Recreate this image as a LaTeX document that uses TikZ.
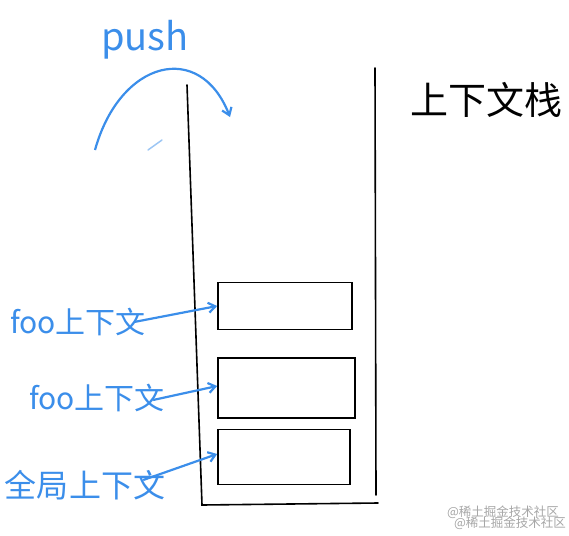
\documentclass[tikz,border=0pt]{standalone}
\usepackage{fontspec}
\newfontfamily\cjk{Noto Sans CJK SC}
\usetikzlibrary{arrows.meta}
\definecolor{pen}{HTML}{3B8EEA}
\begin{document}
\begin{tikzpicture}[x=1pt,y=-1pt,
  wall/.style={black,line width=1.6pt,line cap=round},
  frame/.style={draw=black,line width=1.6pt},
  lbl/.style={text=pen,font=\cjk\fontsize{30}{30}\selectfont,inner sep=0pt},
  blue arrow/.style={pen,line width=2.2pt,-{Straight Barb[length=7pt,width=10pt]}},
  mark text/.style={text=gray!70,font=\cjk\fontsize{12.5}{12.5}\selectfont,inner sep=0pt}]
\useasboundingbox (0,0) rectangle (569,535);
% stack walls
\coordinate (tl) at (187,85);
\coordinate (bl) at (202,505);
\coordinate (br) at (378,503);
\coordinate (tr) at (375,68);
\draw[wall] (tl) -- (bl) -- (br);
\draw[wall] (tr) -- (376,495);
% frames
\node[frame,minimum width=134pt,minimum height=47pt,inner sep=0pt] (f1) at (285,306) {};
\node[frame,minimum width=137pt,minimum height=60pt,inner sep=0pt] (f2) at (286.5,388) {};
\node[frame,minimum width=132pt,minimum height=55pt,inner sep=0pt] (f3) at (284,457) {};
% labels
\node[lbl] (l1) at (78,322) {foo上下文};
\node[lbl] (l2) at (97,398) {foo上下文};
\node[lbl,font=\cjk\fontsize{32}{32}\selectfont] (l3) at (85,485) {全局上下文};
\draw[blue arrow] (l1.east) ++(-12,0) coordinate (a1) -- (f1.west);
\draw[blue arrow] (l2.east) ++(-12,2) coordinate (a2) -- ([yshift=2pt]f2.west);
\draw[blue arrow] (l3.east) ++(-22,-5) coordinate (a3) -- ([yshift=3pt]f3.west);
% push
\node[lbl,font=\cjk\fontsize{38}{38}\selectfont] (push) at (145,40) {push};
\coordinate (ps) at (95,150);
\coordinate (pe) at (230,117);
\draw[blue arrow] (ps) .. controls (120,60) and (200,40) .. (pe);
\coordinate (d1) at (148,150);
\coordinate (d2) at (162,140);
\draw[pen,line width=1.5pt,opacity=0.5,line cap=round] (d1) -- (d2);
% title
\node[font=\cjk\fontsize{38}{38}\selectfont,inner sep=0pt] (title) at (486,100) {上下文栈};
% watermark
\node[mark text] (w1) at (503,512) {@稀土掘金技术社区};
\node[mark text] (w2) at (510,523) {@稀土掘金技术社区};
\end{tikzpicture}
\end{document}
